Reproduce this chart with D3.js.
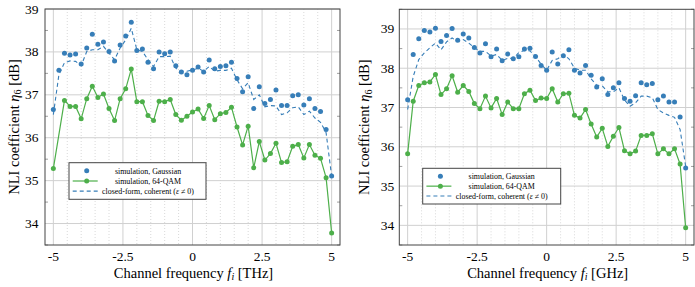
<!DOCTYPE html>
<html>
<head>
<meta charset="UTF-8">
<title>NLI coefficient</title>
<script src="https://cdn.jsdelivr.net/npm/d3@7"></script>
<style>
  body { margin: 0; background: #fff; }
  svg { display: block; font-family: "Liberation Serif", "Times New Roman", serif; }
  .grid-major { stroke: #d0d0d0; stroke-width: 1; }
  .grid-minor { stroke: #cfcfcf; stroke-width: 0.8; stroke-dasharray: 1,2; }
  .frame { fill: none; stroke: #444; stroke-width: 1; }
  .tick-minor { stroke: #888; stroke-width: 0.8; }
</style>
</head>
<body>
<div id="graphe"></div>
<script>
// channel frequencies (same grid for both panels)
var freq = [-5, -4.8, -4.6, -4.4, -4.2, -4, -3.8, -3.6, -3.4, -3.2, -3, -2.8, -2.6, -2.4, -2.2, -2,
  -1.8, -1.6, -1.4, -1.2, -1, -0.8, -0.6, -0.4, -0.2, 0, 0.2, 0.4, 0.6, 0.8, 1, 1.2, 1.4, 1.6, 1.8, 2,
  2.2, 2.4, 2.6, 2.8, 3, 3.2, 3.4, 3.6, 3.8, 4, 4.2, 4.4, 4.6, 4.8, 5];

var xTicks = [-5, -2.5, 0, 2.5, 5];
var xTickLabels = ["-5", "-2.5", "0", "2.5", "5"];

// panneau gauche (THz)
var thzGauss = [36.66, 37.57, 37.97, 37.93, 37.95, 37.72, 38.09, 38.41, 38.18, 38.23, 38.01, 37.79, 38.16,
  38.37, 38.69, 38.03, 38.07, 37.76, 37.61, 38.00, 37.96, 38.00, 37.68, 37.53, 37.47, 37.57, 37.65, 37.53,
  37.81, 37.61, 37.66, 37.68, 37.76, 37.38, 37.07, 37.42, 36.68, 37.19, 36.80, 36.89, 37.11, 36.75, 36.75,
  36.98, 37.00, 36.76, 36.91, 36.68, 36.61, 36.19, 35.11];
var thzQam = [35.28, null, 36.87, 36.73, 36.73, 36.44, 36.91, 37.20, 36.94, 37.02, 36.68, 36.40, 36.91,
  37.14, 37.60, 36.84, 36.84, 36.52, 36.40, 36.85, 36.84, 36.89, 36.54, 36.41, 36.50, 36.60, 36.67, 36.45,
  36.75, 36.42, 36.56, 36.59, 36.71, 36.25, 35.83, 36.27, 35.30, 35.91, 35.48, 35.63, 35.87, 35.42, 35.44,
  35.80, 35.84, 35.53, 35.84, 35.59, 35.52, 35.07, 33.78];
var thzClosed = [36.54, 37.47, 37.75, 37.79, 37.78, 37.68, 38.01, 38.05, 38.05, 38.13, 37.97, 37.82, 38.09,
  38.28, 38.55, 38.05, 38.01, 37.82, 37.66, 37.89, 37.89, 37.90, 37.62, 37.55, 37.55, 37.58, 37.62, 37.55,
  37.66, 37.55, 37.57, 37.57, 37.62, 37.35, 37.14, 37.28, 36.89, 37.00, 36.72, 36.75, 36.74, 36.54, 36.58,
  36.70, 36.72, 36.54, 36.62, 36.46, 36.36, 36.12, 35.10];
var thzYTicks = [34, 35, 36, 37, 38, 39];

// panneau droit (GHz)
var ghzGauss = [37.20, 38.35, 38.75, 38.96, 38.92, 39.02, 38.68, 38.83, 39.01, 38.71, 38.87, 38.77, 38.53,
  38.39, 38.62, 38.29, 38.49, 38.19, 38.36, 38.24, 38.29, 38.49, 38.51, 38.30, 38.07, 37.95, 38.41, 38.11,
  38.32, 38.47, 37.95, 37.88, 38.07, 37.82, 37.52, 37.73, 37.33, 37.50, 37.63, 37.23, 37.16, 37.30, 37.63,
  37.58, 37.61, 37.20, 37.29, 37.14, 37.14, 36.76, 35.46];
var ghzQam = [35.82, 37.16, 37.56, 37.63, 37.65, 37.84, 37.33, 37.48, 37.81, 37.39, 37.56, 37.41, 37.10,
  36.97, 37.29, 36.99, 37.23, 36.82, 37.14, 36.97, 36.97, 37.35, 37.44, 37.18, 37.24, 37.23, 37.48, 37.14,
  37.35, 37.36, 36.80, 36.73, 36.95, 36.58, 36.25, 36.47, 36.01, 36.27, 36.49, 35.90, 35.82, 35.89, 36.29,
  36.29, 36.33, 35.82, 35.95, 35.82, 35.95, 35.56, 33.94];
var ghzClosed = [36.95, 37.79, 38.22, 38.39, 38.52, 38.64, 38.47, 38.67, 38.77, 38.68, 38.73, 38.64, 38.52,
  38.43, 38.43, 38.31, 38.35, 38.20, 38.25, 38.25, 38.40, 38.45, 38.44, 38.30, 38.10, 37.95, 38.20, 38.24,
  38.35, 38.24, 38.00, 37.95, 37.95, 37.73, 37.57, 37.55, 37.40, 37.40, 37.50, 37.19, 37.03, 37.12, 37.29,
  37.29, 37.25, 36.95, 36.86, 36.80, 36.75, 36.44, 35.50];
var ghzYTicks = [34, 35, 36, 37, 38, 39];

var legendLabels = ["simulation, Gaussian", "simulation, 64-QAM", "closed-form, coherent"];

var blue = "#377eb8", green = "#4daf4a";

var svg = d3.select("#graphe").append("svg")
  .attr("width", 695)
  .attr("height", 287);

var panels = [
  { left: 45, right: 340, top: 9, bottom: 245, ydom: [33.5, 39], yTicks: thzYTicks, unit: "THz",
    gauss: thzGauss, qam: thzQam, closed: thzClosed, yLab: 13.5, tickGap: 6.5,
    leg: { x: 69, y: 162.7, w: 137, h: 36.6 } },
  { left: 399.3, right: 694, top: 9.3, bottom: 245, ydom: [33.5, 39.5], yTicks: ghzYTicks, unit: "GHz",
    gauss: ghzGauss, qam: ghzQam, closed: ghzClosed, yLab: 364, tickGap: 5,
    leg: { x: 422.7, y: 168.3, w: 138, h: 35.7 } }
];

panels.forEach(function(p) {
  var x = d3.scaleLinear().domain([-5.3, 5.3]).range([p.left, p.right]);
  var y = d3.scaleLinear().domain(p.ydom).range([p.bottom, p.top]);
  var g = svg.append("g");

  // grille
  var minorX = d3.range(-5, 5.01, 0.5).filter(function(v) { return xTicks.indexOf(v) < 0; });
  g.selectAll(".gmx").data(minorX).enter().append("line")
    .attr("class", "grid-minor")
    .attr("x1", function(d) { return x(d); }).attr("x2", function(d) { return x(d); })
    .attr("y1", p.top).attr("y2", p.bottom);
  g.selectAll(".gx").data(xTicks).enter().append("line")
    .attr("class", "grid-major")
    .attr("x1", function(d) { return x(d); }).attr("x2", function(d) { return x(d); })
    .attr("y1", p.top).attr("y2", p.bottom);
  g.selectAll(".gy").data(p.yTicks).enter().append("line")
    .attr("class", "grid-major")
    .attr("x1", p.left).attr("x2", p.right)
    .attr("y1", function(d) { return y(d); }).attr("y2", function(d) { return y(d); });

  // petites graduations
  var minorY = d3.range(Math.ceil(p.ydom[0] * 2) / 2, p.ydom[1] + 0.01, 0.5)
    .filter(function(v) { return v % 1 !== 0; });
  minorY.forEach(function(v) {
    g.append("line").attr("class", "tick-minor")
      .attr("x1", p.left).attr("x2", p.left + 3).attr("y1", y(v)).attr("y2", y(v));
    g.append("line").attr("class", "tick-minor")
      .attr("x1", p.right - 3).attr("x2", p.right).attr("y1", y(v)).attr("y2", y(v));
  });

  // courbes
  var line = d3.line()
    .x(function(d) { return x(d[0]); })
    .y(function(d) { return y(d[1]); });

  var closedPts = freq.map(function(f, i) { return [f, p.closed[i]]; });
  var qamPts = freq.map(function(f, i) { return [f, p.qam[i]]; }).filter(function(d) { return d[1] !== null; });
  var gaussPts = freq.map(function(f, i) { return [f, p.gauss[i]]; });

  g.append("path").datum(qamPts)
    .attr("fill", "none").attr("stroke", green).attr("stroke-width", 1.2)
    .attr("d", line);
  g.selectAll(".qam").data(qamPts).enter().append("circle")
    .attr("cx", function(d) { return x(d[0]); })
    .attr("cy", function(d) { return y(d[1]); })
    .attr("r", 2.5).attr("fill", green);

  g.selectAll(".gauss").data(gaussPts).enter().append("circle")
    .attr("cx", function(d) { return x(d[0]); })
    .attr("cy", function(d) { return y(d[1]); })
    .attr("r", 2.5).attr("fill", blue);

  g.append("path").datum(closedPts)
    .attr("fill", "none").attr("stroke", blue).attr("stroke-width", 1.1)
    .attr("stroke-dasharray", "4,3")
    .attr("d", line);

  // cadre
  g.append("rect").attr("class", "frame")
    .attr("x", p.left).attr("y", p.top)
    .attr("width", p.right - p.left).attr("height", p.bottom - p.top);

  // étiquettes
  g.selectAll(".yt").data(p.yTicks).enter().append("text")
    .attr("x", p.left - p.tickGap)
    .attr("y", function(d) { return y(d) + 4.5; })
    .attr("text-anchor", "end")
    .attr("font-size", 13.5)
    .text(function(d) { return d; });
  g.selectAll(".xt").data(xTicks).enter().append("text")
    .attr("x", function(d) { return x(d); })
    .attr("y", 261)
    .attr("text-anchor", "middle")
    .attr("font-size", 13.5)
    .text(function(d, i) { return xTickLabels[i]; });

  var xl = g.append("text")
    .attr("x", (p.left + p.right) / 2 + 1)
    .attr("y", 277.5)
    .attr("text-anchor", "middle")
    .attr("font-size", 14.5);
  xl.append("tspan").text("Channel frequency ");
  xl.append("tspan").attr("font-style", "italic").text("f");
  xl.append("tspan").attr("font-size", 10).attr("font-style", "italic").attr("dy", 2.5).text("i");
  xl.append("tspan").attr("dy", -2.5).text(" [" + p.unit + "]");

  var ym = (p.top + p.bottom) / 2;
  var yl = g.append("text")
    .attr("transform", "translate(" + (p.yLab + 5) + "," + ym + ") rotate(-90)")
    .attr("text-anchor", "middle")
    .attr("font-size", 14.5);
  yl.append("tspan").text("NLI coefficient ");
  yl.append("tspan").attr("font-style", "italic").text("η");
  yl.append("tspan").attr("font-size", 10).attr("dy", 2.5).text("6");
  yl.append("tspan").attr("dy", -2.5).text(" [dB]");

  // légende
  var L = p.leg;
  var lg = g.append("g");
  lg.append("rect")
    .attr("x", L.x).attr("y", L.y).attr("width", L.w).attr("height", L.h)
    .attr("fill", "#fff").attr("stroke", "#444").attr("stroke-width", 1);
  var rowH = L.h / 3.6;
  var cx = L.x + 17.7;
  var tx = L.x + 79;
  [0, 1, 2].forEach(function(i) {
    var ry = L.y + rowH * (0.8 + i);
    if (i === 0) {
      lg.append("circle").attr("cx", cx).attr("cy", ry).attr("r", 2.5).attr("fill", blue);
    } else if (i === 1) {
      lg.append("line").attr("x1", cx - 14).attr("x2", cx + 11).attr("y1", ry).attr("y2", ry)
        .attr("stroke", green).attr("stroke-width", 1.2);
      lg.append("circle").attr("cx", cx).attr("cy", ry).attr("r", 2.5).attr("fill", green);
    } else {
      lg.append("line").attr("x1", cx - 14).attr("x2", cx + 11).attr("y1", ry).attr("y2", ry)
        .attr("stroke", blue).attr("stroke-width", 1.1).attr("stroke-dasharray", "4,3");
    }
    var t = lg.append("text")
      .attr("x", tx).attr("y", ry + 2.7)
      .attr("text-anchor", "middle")
      .attr("font-size", 7.9)
      .text(legendLabels[i]);
    if (i === 2) {
      t.append("tspan").text(" (");
      t.append("tspan").attr("font-style", "italic").text("ε");
      t.append("tspan").text(" ≠ 0)");
    }
  });
});
</script>
</body>
</html>
